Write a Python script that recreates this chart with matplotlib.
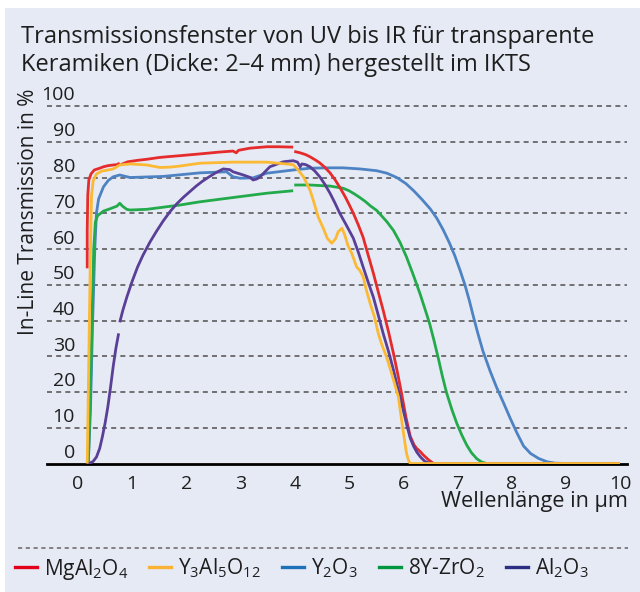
import numpy as np
import matplotlib
matplotlib.use('Agg')
import matplotlib.pyplot as plt
from matplotlib.lines import Line2D
from matplotlib.patches import Rectangle
import matplotlib.transforms as mtransforms

plt.rcParams['font.family'] = ['Open Sans', 'DejaVu Sans']
plt.rcParams['mathtext.fontset'] = 'custom'
plt.rcParams['mathtext.rm'] = 'Open Sans'
plt.rcParams['mathtext.it'] = 'Open Sans'
plt.rcParams['mathtext.default'] = 'regular'
plt.rcParams['lines.scale_dashes'] = False

nan = np.nan

# ---------------- data ----------------
title_lines = ["Transmissionsfenster von UV bis IR für transparente",
               "Keramiken (Dicke: 2–4 mm) hergestellt im IKTS"]
ylabel = "In-Line Transmission in %"
xlabel = "Wellenlänge in µm"
xticks = [0, 1, 2, 3, 4, 5, 6, 7, 8, 9, 10]
yticks = [0, 10, 20, 30, 40, 50, 60, 70, 80, 90, 100]

names = ["MgAl$_2$O$_4$", "Y$_3$Al$_5$O$_{12}$", "Y$_2$O$_3$", "8Y-ZrO$_2$", "Al$_2$O$_3$"]
line_colors = ["#e52b2b", "#fbb934", "#4d82c3", "#22aa4b", "#5a3f96"]
legend_colors = ["#e3001b", "#f9b233", "#1d71b8", "#009640", "#2c2e83"]

mgal2o4_x = [0.17, 0.17, 0.18, 0.20, 0.24, 0.30, 0.40, 0.47, 0.55, 0.65, 0.72, 0.77, nan,
             0.79, 0.92, 1.10, 1.27, 1.50, 1.64, 1.88, 2.25, 2.60, 2.86, 2.92, 2.96, 3.17, 3.48, 3.70, 3.97, nan,
             3.99, 4.10, 4.20, 4.28, 4.37, 4.46, 4.55, 4.65, 4.75, 4.84, 4.93, 5.00, 5.08, 5.17, 5.26, 5.35,
             5.45, 5.54, 5.63, 5.73, 5.82, 5.90, 5.97, 6.05, 6.13, 6.20, 6.25, 6.31, 6.37, 6.47, 6.56, 10.0]
mgal2o4_y = [54.6, 65.0, 75.0, 79.3, 81.0, 82.1, 82.6, 83.0, 83.3, 83.5, 83.6, 84.0, nan,
             83.6, 84.4, 84.8, 85.1, 85.6, 85.8, 86.1, 86.6, 87.1, 87.4, 86.9, 87.6, 88.2, 88.6, 88.6, 88.5, nan,
             87.3, 86.9, 86.4, 85.8, 85.0, 84.1, 82.9, 81.3, 79.2, 77.0, 74.6, 72.5, 70.0, 66.8, 63.3, 58.5,
             53.2, 48.0, 42.9, 36.8, 30.8, 25.0, 19.6, 13.0, 7.6, 5.2, 4.2, 3.4, 2.4, 1.0, 0.0, 0.0]

yag_x = [0.17, 0.20, 0.23, 0.25, 0.28, 0.34, 0.44, 0.55, 0.65, 0.77, 0.96, 1.27, 1.51, 1.70, 1.88, 2.25,
         2.86, 3.48, 3.97, 4.05, 4.16, 4.28, 4.34, 4.43, 4.52, 4.60, 4.68, 4.75, 4.80, 4.87, 4.92, 4.98,
         5.05, 5.14, 5.20, 5.26, 5.32, 5.39, 5.47, 5.54, 5.60, 5.69, 5.76, 5.82, 5.91, 5.97, 6.02, 6.06,
         6.10, 6.13, 7.00, 10.0]
yag_y = [0.0, 30.0, 60.0, 75.0, 79.0, 81.0, 81.8, 82.1, 82.4, 83.5, 83.8, 83.5, 82.8, 82.9, 83.2, 84.0,
         84.3, 84.3, 83.6, 82.3, 80.2, 76.5, 73.7, 69.0, 66.0, 63.0, 61.6, 62.8, 64.8, 65.8, 64.0, 61.0,
         58.8, 55.0, 54.0, 52.3, 48.5, 44.8, 41.0, 36.4, 33.5, 29.9, 26.5, 23.4, 18.7, 12.2, 7.0, 2.9,
         0.8, 0.0, 0.0, 0.0]

y2o3_x = [0.19, 0.23, 0.27, 0.31, 0.34, 0.38, 0.47, 0.56, 0.65, 0.77, 0.96, 1.57, 2.25, 2.74, 2.86, 2.99,
          3.23, 3.48, 3.97, 4.28, 4.59, 4.89, 5.20, 5.51, 5.70, 5.88, 6.05, 6.20, 6.35, 6.50, 6.62, 6.74,
          6.85, 6.95, 7.05, 7.14, 7.22, 7.29, 7.37, 7.47, 7.60, 7.72, 7.85, 7.97, 8.10, 8.22, 8.35, 8.50,
          8.65, 8.80, 9.00, 10.0]
y2o3_y = [0.0, 15.0, 40.0, 60.0, 70.0, 74.0, 77.4, 79.2, 80.2, 80.7, 80.0, 80.3, 81.3, 81.6, 80.2, 79.8,
          79.9, 81.2, 82.1, 82.6, 82.7, 82.7, 82.4, 81.9, 81.2, 80.0, 78.3, 76.2, 73.8, 71.2, 68.6, 65.3,
          61.8, 58.2, 54.0, 49.9, 45.6, 41.4, 36.8, 31.5, 26.0, 21.4, 17.0, 12.8, 8.5, 4.9, 2.8, 1.4,
          0.5, 0.1, 0.0, 0.0]

zro2_x = [0.19, 0.22, 0.26, 0.29, 0.32, 0.36, 0.47, 0.60, 0.72, 0.77, 0.82, 0.90, 0.96, 1.27, 1.88, 2.25,
          2.86, 3.48, 3.97, nan, 3.99, 4.28, 4.65, 4.89, 5.00, 5.10, 5.20, 5.30, 5.40, 5.51, 5.60, 5.70,
          5.82, 5.94, 6.06, 6.18, 6.31, 6.40, 6.49, 6.57, 6.65, 6.72, 6.80, 6.90, 6.99, 7.08, 7.17, 7.26,
          7.36, 7.45, 7.54, 10.0]
zro2_y = [0.0, 15.0, 40.0, 60.0, 67.5, 69.3, 70.6, 71.3, 72.0, 72.8, 72.0, 71.1, 70.9, 71.1, 72.3, 73.2,
          74.4, 75.6, 76.3, nan, 77.9, 77.9, 77.6, 77.0, 76.3, 75.4, 74.4, 73.3, 72.0, 70.8, 69.3, 67.6,
          65.2, 61.9, 57.8, 53.0, 47.5, 43.3, 39.0, 34.3, 29.3, 24.6, 19.8, 15.0, 11.2, 8.0, 5.2, 3.0,
          1.3, 0.4, 0.0, 0.0]

al2o3_x = [0.17, 0.22, 0.28, 0.34, 0.40, 0.45, 0.50, 0.55, 0.60, 0.65, 0.70, 0.75, nan,
           0.77, 0.83, 0.90, 1.00, 1.10, 1.20, 1.33, 1.45, 1.57, 1.70, 1.82, 1.94, 2.06, 2.18, 2.30, 2.42,
           2.55, 2.68, 2.80, 2.86, 3.05, 3.18, 3.23, 3.30, 3.36, 3.54, 3.79, 3.97, 4.05, 4.10, 4.13, 4.20,
           4.28, 4.37, 4.46, 4.55, 4.65, 4.74, 4.83, 4.95, 5.08, 5.17, 5.26, 5.35, 5.45, 5.54, 5.63, 5.73,
           5.82, 5.91, 6.00, 6.07, 6.13, 6.19, 6.25, 6.32, 6.40, 6.48, 6.56, 10.0]
al2o3_y = [0.0, 0.1, 0.6, 1.8, 4.2, 7.5, 11.3, 15.8, 21.3, 27.2, 32.3, 36.4, nan,
           39.5, 43.0, 46.5, 51.0, 55.0, 58.3, 62.0, 65.0, 67.8, 70.5, 72.6, 74.4, 76.0, 77.6, 79.0, 80.2,
           81.4, 82.4, 82.2, 81.6, 80.7, 80.0, 79.3, 79.6, 80.2, 83.0, 84.4, 84.7, 84.3, 83.0, 83.8, 83.6,
           83.0, 81.8, 80.2, 78.2, 75.6, 72.9, 70.0, 66.7, 63.0, 59.2, 55.0, 50.9, 46.5, 41.5, 36.4, 31.3,
           26.2, 20.5, 15.0, 10.5, 7.1, 4.9, 3.2, 1.8, 0.6, 0.1, 0.0, 0.0]

series_x = [mgal2o4_x, yag_x, y2o3_x, zro2_x, al2o3_x]
series_y = [mgal2o4_y, yag_y, y2o3_y, zro2_y, al2o3_y]
zorders = [4, 6, 2, 3, 5]

# ---------------- figure ----------------
W, H = 640, 592
BG = '#e6eaf5'
TXT = '#1e1e1e'
fig = plt.figure(figsize=(W / 100, H / 100), dpi=100)
fig.patch.set_facecolor('white')
fig.add_artist(Rectangle((5 / W, 0), 1, 1 - 8 / H, transform=fig.transFigure,
                         facecolor=BG, edgecolor='none', zorder=-10))

ax_left, ax_right = 47, 627
y0_px, y100_px = 463.5, 106.0
ppu = (y0_px - y100_px) / 100.0
ytop = 102
ax_bottom_px = y0_px
ax_top_px = y0_px - ytop * ppu
ax = fig.add_axes([ax_left / W, 1 - ax_bottom_px / H, (ax_right - ax_left) / W,
                   (ax_bottom_px - ax_top_px) / H])
ax.set_facecolor('none')
x0_px, x10_px = 78, 620
xppu = (x10_px - x0_px) / 10.0
ax.set_xlim((ax_left - x0_px) / xppu, (ax_right - x0_px) / xppu)
ax.set_ylim(0, ytop)

for i in range(5):
    ax.plot(series_x[i], series_y[i], color=line_colors[i], lw=2.0,
            solid_capstyle='butt', solid_joinstyle='round', zorder=zorders[i])

for s in ['top', 'right', 'left']:
    ax.spines[s].set_visible(False)
ax.spines['bottom'].set_color('black')
ax.spines['bottom'].set_linewidth(2.0)
ax.spines['bottom'].set_zorder(1)

ax.set_yticks(yticks)
ax.set_xticks(xticks)
ax.tick_params(axis='both', length=0, labelsize=14, labelcolor=TXT)
ax.tick_params(axis='y', pad=-20.2)
ax.tick_params(axis='x', pad=8)
ax.yaxis.grid(True, color='#505050', lw=1.1, linestyle=(0, (3.6, 3.0)))
ax.set_axisbelow(True)
for gl, v in zip(ax.get_ygridlines(), yticks):
    if v == 0:
        gl.set_visible(False)
offset = mtransforms.ScaledTranslation(0, 12.5 / 100, fig.dpi_scale_trans)
for lab in ax.get_yticklabels():
    lab.set_transform(lab.get_transform() + offset)

# texts
fig.text(21 / W, 1 - 43 / H, title_lines[0], fontsize=17, color=TXT, va='baseline', ha='left')
fig.text(21 / W, 1 - 71 / H, title_lines[1], fontsize=17, color=TXT, va='baseline', ha='left')
fig.text(29 / W, 1 - 212 / H, ylabel, rotation=90, fontsize=15, color=TXT, va='center', ha='center')
fig.text(628 / W, 1 - 502 / H, xlabel, fontsize=15.6, color=TXT, va='center', ha='right')

# separator + legend
fig.add_artist(Line2D([18 / W, 628 / W], [1 - 548 / H, 1 - 548 / H], transform=fig.transFigure,
                      color='#7a7a7a', lw=1.3, linestyle=(0, (3.0, 2.6))))
handles = [Line2D([], [], color=c, lw=2.4) for c in legend_colors]
fig.legend(handles, names, loc='center left', bbox_to_anchor=(15 / W, 1 - 569 / H), ncol=5,
           frameon=False, fontsize=15, handlelength=1.05, handletextpad=0.35, columnspacing=1.0,
           borderaxespad=0, borderpad=0, labelcolor=TXT)

fig.savefig('out.png', dpi=100, facecolor=fig.get_facecolor())
